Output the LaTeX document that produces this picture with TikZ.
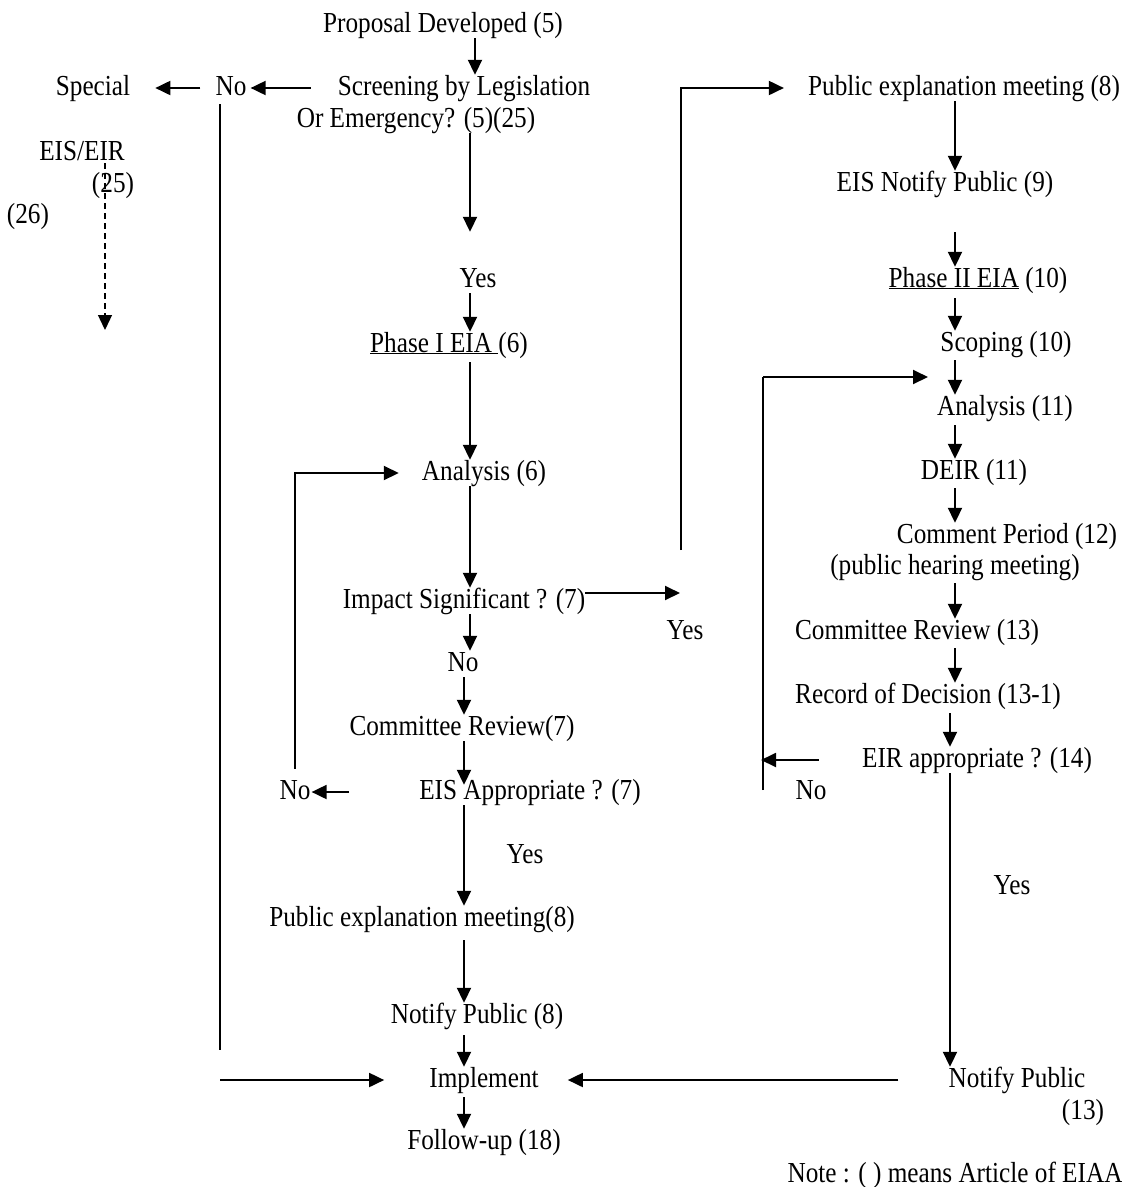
\documentclass[tikz,border=0pt]{standalone}
\usepackage{fontspec}
\setmainfont{Liberation Serif}[FakeStretch=0.87]
\usetikzlibrary{arrows.meta}

\begin{document}
\begin{tikzpicture}[x=1pt,y=-1pt]
                        \tikzstyle{lbl}=[inner sep=0pt, text height=20pt, text depth=6pt, font=\fontsize{29}{32}\selectfont]
                        \tikzstyle{arr}=[-{Triangle[length=15pt,width=14pt]}, line width=1.9pt]
                        \useasboundingbox (0,0) rectangle (1122,1187);
                        \coordinate (xa) at (475,0);
                        \coordinate (xb) at (470,0);
                        \coordinate (xc) at (464,0);
                        \coordinate (xd) at (105,0);
                        \coordinate (xr) at (955,0);
                        \coordinate (xs) at (950,0);
                        \coordinate (nobot) at (220,1050);
                        \coordinate (noleft) at (220,1080);
                        \coordinate (dashend) at (105,330);
                        \coordinate (yestip) at (680,593);
                        \coordinate (yestop) at (681,550);
                        \coordinate (loopbot) at (763,790);
                        \coordinate (looptip) at (928,377);

                        \node[lbl] (prop) at (443,25) {Proposal Developed (5)};
                        \node[lbl] (screen) at (464,88) {Screening by Legislation};
                        \node[lbl] (emerg) at (416,120) {Or Emergency? (5)(25)};
                        \node[lbl] (noA) at (231,88) {No};
                        \node[lbl] (special) at (93,88) {Special};
                        \node[lbl] (eiseir) at (82,153) {EIS/EIR};
                        \node[lbl] (art25) at (113,185) {(25)};
                        \node[lbl] (art26) at (28,216) {(26)};
                        \node[lbl] (yesA) at (478,280) {Yes};
                        \node[lbl] (phaseI) at (449,345) {\underline{Phase I EIA }(6)};
                        \node[lbl] (anaI) at (484,473) {Analysis (6)};
                        \node[lbl] (impact) at (464,601) {Impact Significant ? (7)};
                        \node[lbl] (yesB) at (685,632) {Yes};
                        \node[lbl] (noB) at (463,664) {No};
                        \node[lbl] (comI) at (462,728) {Committee Review(7)};
                        \node[lbl] (eisapp) at (530,792) {EIS Appropriate ? (7)};
                        \node[lbl] (noC) at (295,792) {No};
                        \node[lbl] (yesC) at (525,856) {Yes};
                        \node[lbl] (pubI) at (422,919) {Public explanation meeting(8)};
                        \node[lbl] (notI) at (477,1016) {Notify Public (8)};
                        \node[lbl] (impl) at (484,1080) {Implement};
                        \node[lbl] (follow) at (484,1142) {Follow-up (18)};

                        \node[lbl] (pubII) at (964,88) {Public explanation meeting (8)};
                        \node[lbl] (eisnot) at (945,184) {EIS Notify Public (9)};
                        \node[lbl] (phaseII) at (978,280) {\underline{Phase II EIA} (10)};
                        \node[lbl] (scop) at (1006,344) {Scoping (10)};
                        \node[lbl] (anaII) at (1005,408) {Analysis (11)};
                        \node[lbl] (deir) at (974,472) {DEIR (11)};
                        \node[lbl] (comment) at (1007,536) {Comment Period (12)};
                        \node[lbl] (hearing) at (955,567) {(public hearing meeting)};
                        \node[lbl] (comII) at (917,632) {Committee Review (13)};
                        \node[lbl] (record) at (928,696) {Record of Decision (13-1)};
                        \node[lbl] (eirapp) at (977,760) {EIR appropriate ? (14)};
                        \node[lbl] (noD) at (811,792) {No};
                        \node[lbl] (yesD) at (1012,887) {Yes};
                        \node[lbl] (notII) at (1017,1080) {Notify Public};
                        \node[lbl] (art13) at (1083,1112) {(13)};
                        \node[lbl] (note) at (955,1175) {Note : ( ) means Article of EIAA};

                        \draw[arr] (prop.south -| xa) -- (screen.north -| xa);
                        \draw[arr, shorten <=27pt, shorten >=4pt] (screen.west) -- (noA.east);
                        \draw[arr, shorten <=15pt, shorten >=25pt] (noA.west) -- (special.east);
                        \draw[line width=1.9pt, shorten <=3pt] (noA.south -| nobot) -- (nobot);
                        \draw[arr, shorten >=45pt] (noleft) -- (impl.west);
                        \draw[arr, dashed, line width=1.3pt, dash pattern=on 6pt off 4pt, shorten <=-3pt] (eiseir.south -| xd) -- (dashend);
                        \draw[arr, shorten >=35pt] (emerg.south -| xb) -- (yesA.north -| xb);
                        \draw[arr] (yesA.south -| xb) -- (phaseI.north -| xb);
                        \draw[arr, shorten <=4pt] (phaseI.south -| xb) -- (anaI.north -| xb);
                        \draw[arr] (anaI.south -| xb) -- (impact.north -| xb);
                        \draw[arr] (impact.south -| xb) -- (noB.north -| xb);
                        \draw[arr] (noB.south -| xc) -- (comI.north -| xc);
                        \draw[arr, shorten >=-6pt] (comI.south -| xc) -- (eisapp.north -| xc);
                        \draw[arr, shorten <=70pt, shorten >=1pt] (eisapp.west) -- (noC.east);
                        \draw[arr, shorten <=10pt, shorten >=23pt] (noC.north) |- (anaI.west);
                        \draw[arr] (impact.east |- yestip) -- (yestip);
                        \draw[arr, shorten >=24pt] (yestop) |- (pubII.west);
                        \draw[arr] (eisapp.south -| xc) -- (pubI.north -| xc);
                        \draw[arr, shorten <=8pt] (pubI.south -| xc) -- (notI.north -| xc);
                        \draw[arr, shorten <=6pt] (notI.south -| xc) -- (impl.north -| xc);
                        \draw[arr, shorten <=4pt] (impl.south -| xc) -- (follow.north -| xc);

                        \draw[arr] (pubII.south -| xr) -- (eisnot.north -| xr);
                        \draw[arr, shorten <=35pt] (eisnot.south -| xr) -- (phaseII.north -| xr);
                        \draw[arr, shorten <=5pt] (phaseII.south -| xr) -- (scop.north -| xr);
                        \draw[arr, shorten <=3pt] (scop.south -| xr) -- (anaII.north -| xr);
                        \draw[line width=1.9pt] (loopbot) -- (loopbot |- looptip);
                        \draw[arr] (loopbot |- looptip) -- (looptip);
                        \draw[arr, shorten <=4pt] (anaII.south -| xr) -- (deir.north -| xr);
                        \draw[arr, shorten <=3pt] (deir.south -| xr) -- (comment.north -| xr);
                        \draw[arr, shorten <=3pt] (hearing.south -| xr) -- (comII.north -| xr);
                        \draw[arr, shorten <=3pt] (comII.south -| xr) -- (record.north -| xr);
                        \draw[arr, shorten <=4pt] (record.south -| xs) -- (eirapp.north -| xs);
                        \draw[arr, shorten <=43pt, shorten >=-2pt] (eirapp.west) -- (eirapp.west -| loopbot);
                        \draw[arr] (eirapp.south -| xs) -- (notII.north -| xs);
                        \draw[arr, shorten <=50pt, shorten >=29pt] (notII.west) -- (impl.east);
\end{tikzpicture}
\end{document}
